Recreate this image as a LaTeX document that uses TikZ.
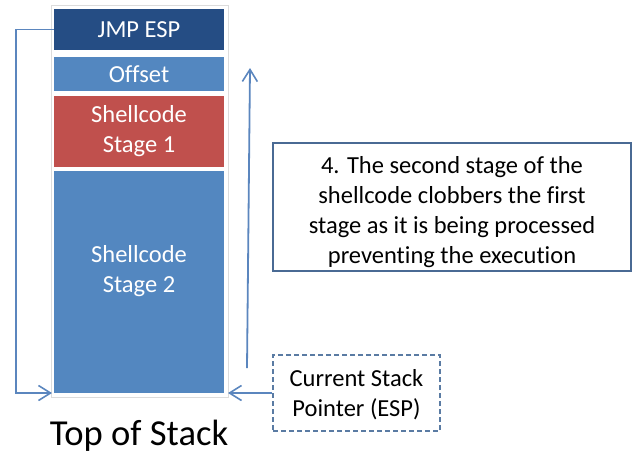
\documentclass[tikz,border=0pt]{standalone}
\usepackage{fontspec}
\setmainfont[Ligatures=NoCommon]{Carlito}
\usetikzlibrary{arrows.meta}
\definecolor{darkblk}{HTML}{254D84}
\definecolor{midblk}{HTML}{5387C0}
\definecolor{redblk}{HTML}{C0504D}
\definecolor{arrowc}{HTML}{5B86BE}
\definecolor{boxline}{HTML}{4A6A94}
\definecolor{dashline}{HTML}{5A7BA3}
\definecolor{frame}{HTML}{DCDCDC}
\tikzset{
  cell/.style={rectangle, inner sep=0pt, outer sep=0pt, minimum width=170pt,
    text=white, align=center, font=\fontsize{24.5}{30}\selectfont},
  flow/.style={draw=arrowc, line width=1.8pt, -{Straight Barb[length=12pt,width=15pt,line width=1.6pt]}},
  note/.style={rectangle, draw=boxline, line width=1.4pt, fill=white, align=center,
    inner sep=0pt, font=\fontsize{24.5}{30}\selectfont},
  plain/.style={inner sep=0pt, align=center, font=\fontsize{24.5}{30}\selectfont},
}
\begin{document}
\begin{tikzpicture}[x=1pt,y=-1pt]
\useasboundingbox (0,0) rectangle (636,459);
% table outline behind the stack cells
\draw[frame, line width=0.8pt] (51,5) rectangle (228,397);
% stack cells
\node[cell, fill=darkblk, minimum height=41pt] (jmp) at (139,29.5) {JMP ESP};
\node[cell, fill=midblk, minimum height=34pt] (off) at (139,74) {Offset};
\node[cell, fill=redblk, minimum height=71pt] (st1) at (139,131.5) {Shellcode\\Stage 1};
\node[cell, fill=midblk, minimum height=222pt] (st2) at (139,282) {};
\node[cell] (st2txt) at (139,271) {Shellcode\\Stage 2};
% labels
\node[font=\fontsize{36.6}{44}\selectfont, inner sep=0pt] (top) at (139,436) {Top of Stack};
\node[note, minimum width=358pt, minimum height=128pt] (desc) at (452,207) {};
\node[plain] (desctxt) at (452,212)
  {4. The second stage of the\\shellcode clobbers the first\\stage as it is being processed\\preventing the execution};
\node[note, draw=dashline, dashed, dash pattern=on 5pt off 3pt, minimum width=167pt, minimum height=76pt] (esp) at (356.5,393) {};
\node[plain] (esptxt) at (356.5,395) {Current Stack\\Pointer (ESP)};
% connectors
\coordinate (upfrom) at (247,368);
\coordinate (upto) at (250,68);
\draw[flow] (jmp.west) -- ++(-38,0) |- ([xshift=-2pt]st2.south west);
\draw[flow] (esp.west) -- ([xshift=4pt]st2.south east);
\draw[flow] (upfrom) -- (upto);
\end{tikzpicture}
\end{document}
